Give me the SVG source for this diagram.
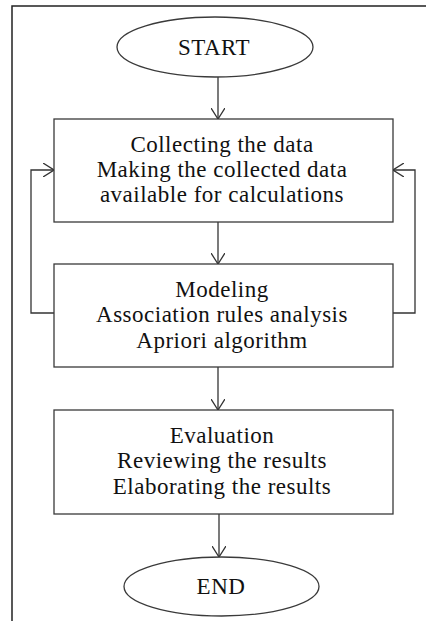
<svg xmlns="http://www.w3.org/2000/svg" width="426" height="621" viewBox="0 0 426 621">
  <style>
    .shape { fill: #ffffff; stroke: #3a3a3a; stroke-width: 1.3; }
    .frame { fill: none; stroke: #222222; stroke-width: 1.5; }
    .link { fill: none; stroke: #333333; stroke-width: 1.3; }
    .label { font-family: "Liberation Serif", "Times New Roman", serif; font-size: 23px; letter-spacing: 0.5px; fill: #111111; text-anchor: middle; }
  </style>
  <defs>
    <marker id="open-arrow" viewBox="0 0 12 14" refX="11" refY="7" markerWidth="12" markerHeight="14" markerUnits="userSpaceOnUse" orient="auto">
      <path d="M0,0 L11,7 L0,14" fill="none" stroke="#333333" stroke-width="1.3"/>
    </marker>
  </defs>

  <rect width="426" height="621" fill="#ffffff"/>

  <!-- page frame: open at the right and bottom -->
  <path class="frame" d="M12,621 L12,6 L426,6"/>

  <g id="connectors">
    <line class="link" x1="218" y1="77" x2="218" y2="119" marker-end="url(#open-arrow)"/>
    <line class="link" x1="218" y1="222" x2="218" y2="264" marker-end="url(#open-arrow)"/>
    <line class="link" x1="218" y1="367" x2="218" y2="410" marker-end="url(#open-arrow)"/>
    <line class="link" x1="219" y1="514" x2="219" y2="557" marker-end="url(#open-arrow)"/>
    <!-- feedback loops from Modeling back to data collection -->
    <polyline class="link" points="54,313 31,313 31,170 54,170" marker-end="url(#open-arrow)"/>
    <polyline class="link" points="393,313 415,313 415,170 393,170" marker-end="url(#open-arrow)"/>
  </g>

  <g id="start">
    <ellipse class="shape" cx="215" cy="47" rx="98" ry="30"/>
    <text class="label" x="214" y="55">START</text>
  </g>

  <g id="collect">
    <rect class="shape" x="54" y="119" width="339" height="103"/>
    <text class="label" x="222" y="152">Collecting the data</text>
    <text class="label" x="222" y="177">Making the collected data</text>
    <text class="label" x="222" y="202">available for calculations</text>
  </g>

  <g id="modeling">
    <rect class="shape" x="54" y="264" width="339" height="103"/>
    <text class="label" x="222" y="297">Modeling</text>
    <text class="label" x="222" y="322">Association rules analysis</text>
    <text class="label" x="222" y="348">Apriori algorithm</text>
  </g>

  <g id="evaluation">
    <rect class="shape" x="54" y="410" width="339" height="104"/>
    <text class="label" x="222" y="443">Evaluation</text>
    <text class="label" x="222" y="468">Reviewing the results</text>
    <text class="label" x="222" y="494">Elaborating the results</text>
  </g>

  <g id="end">
    <ellipse class="shape" cx="221.5" cy="586.5" rx="97.5" ry="29.5"/>
    <text class="label" x="221" y="594">END</text>
  </g>
</svg>
